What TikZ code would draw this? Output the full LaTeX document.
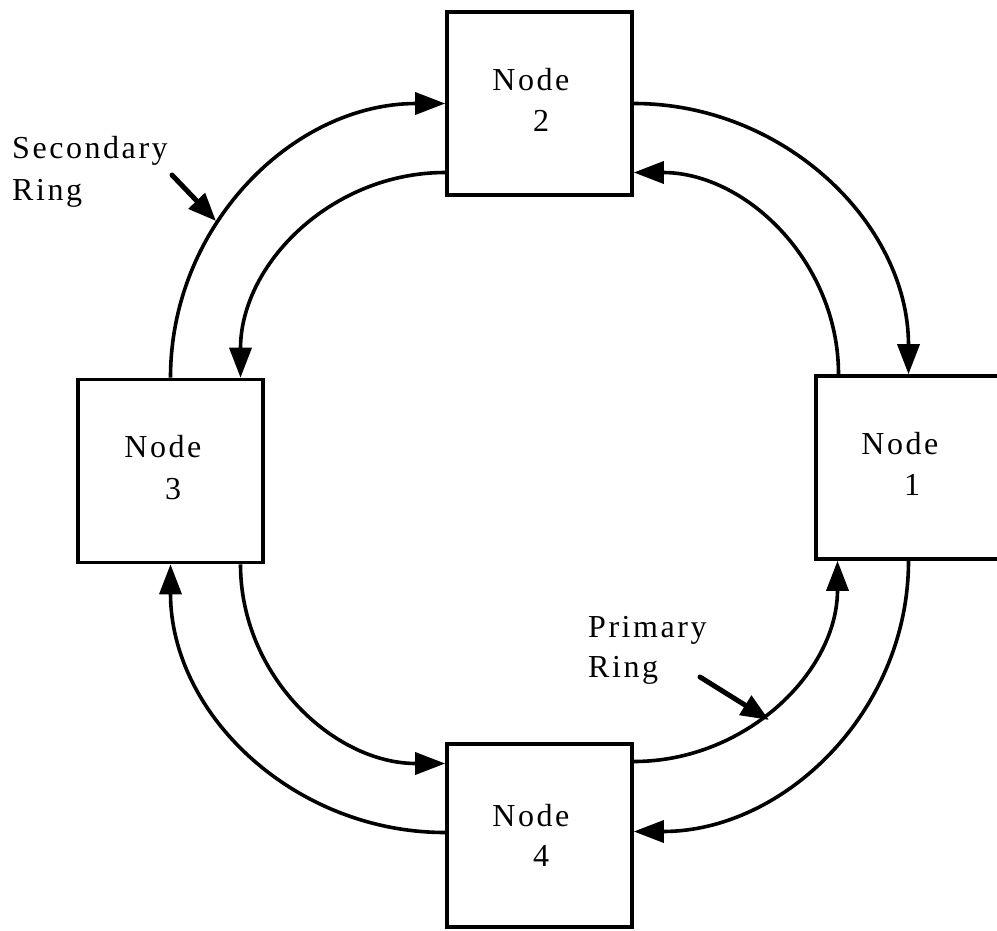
\documentclass[tikz,border=0pt]{standalone}
\usepackage{fontspec}
\setmainfont{Liberation Serif}[LetterSpace=8]
\usetikzlibrary{arrows.meta}
\begin{document}
\begin{tikzpicture}[x=1pt,y=-1pt,
  box/.style={draw, line width=3.6pt, minimum width=185pt, minimum height=183pt, inner sep=0pt},
  txt/.style={inner sep=0pt, font=\fontsize{32}{38}\selectfont},
  ring/.style={line width=3.6pt, -{Triangle[length=30pt,width=22pt]}},
  pointer/.style={line width=5pt, line cap=round, -{Triangle[length=28pt,width=22pt]}}]
\useasboundingbox (0,0) rectangle (997,930);
\clip (0,0) rectangle (997,930);
\fill[white] (0,0) rectangle (997,930);

% the four stations
\node[box] (n2) at (539.5,103.5) {};
\node[box] (n3) at (170.5,471) {};
\node[box] (n1) at (908.5,467.5) {};
\node[box] (n4) at (539.5,835.5) {};

% station captions
\node[txt, anchor=base west] (t2) at ([xshift=47pt,yshift=-80pt]n2.north west) {Node};
\node[txt, anchor=base] (d2) at ([xshift=96pt,yshift=-121pt]n2.north west) {2};
\node[txt, anchor=base west] (t3) at ([xshift=48pt,yshift=-80pt]n3.north west) {Node};
\node[txt, anchor=base] (d3) at ([xshift=97pt,yshift=-122pt]n3.north west) {3};
\node[txt, anchor=base west] (t1) at ([xshift=47pt,yshift=-80pt]n1.north west) {Node};
\node[txt, anchor=base] (d1) at ([xshift=98pt,yshift=-121pt]n1.north west) {1};
\node[txt, anchor=base west] (t4) at ([xshift=47pt,yshift=-84pt]n4.north west) {Node};
\node[txt, anchor=base] (d4) at ([xshift=96pt,yshift=-124pt]n4.north west) {4};

% outer ring, clockwise
\draw[ring] (n3.north) to[out=90,in=180] (n2.west);
\draw[ring] (n2.east) to[out=0,in=90] (n1.north);
\draw[ring] (n1.south) to[out=-90,in=0] ([yshift=4pt]n4.east);
\draw[ring] ([yshift=3pt]n4.west) to[out=180,in=-90] (n3.south);

% inner ring, counter-clockwise
\draw[ring] ([yshift=-69pt]n2.west) to[out=180,in=90] ([xshift=70pt]n3.north);
\draw[ring] ([xshift=70pt]n3.south) to[out=-90,in=180] ([yshift=72pt]n4.west);
\draw[ring] ([yshift=74pt]n4.east) to[out=0,in=-90] ([xshift=-71pt]n1.south);
\draw[ring] ([xshift=-70pt]n1.north) to[out=90,in=0] ([yshift=-69pt]n2.east);

% ring labels with pointers
\node[txt, anchor=base west] (sec1) at (12,158) {Secondary};
\node[txt, anchor=base west] (sec2) at (12,200) {Ring};
\node[txt, anchor=base west] (pri1) at (588,637) {Primary};
\node[txt, anchor=base west] (pri2) at (588,677) {Ring};
\coordinate (secA) at (172,175);
\coordinate (secB) at (216,221);
\coordinate (priA) at (700,677);
\coordinate (priB) at (769,720);
\draw[pointer] (secA) -- (secB);
\draw[pointer] (priA) -- (priB);
\end{tikzpicture}
\end{document}
